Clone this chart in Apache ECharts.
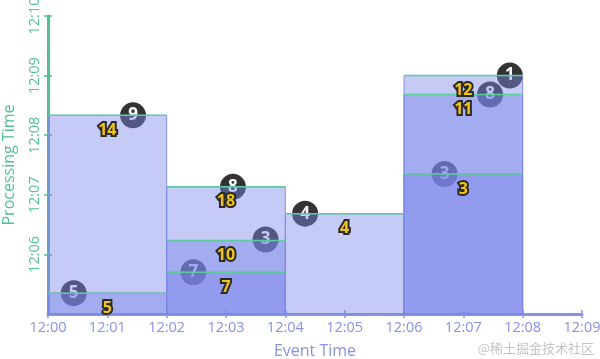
<!DOCTYPE html>
<html>
<head>
<meta charset="utf-8">
<script src="https://cdn.jsdelivr.net/npm/echarts@6/dist/echarts.min.js"></script>
<style>html,body{margin:0;padding:0;background:#fff}#c{width:600px;height:359px}</style>
</head>
<body>
<div id="c"></div>
<script>
// ---- data ----
const xTicks = ["12:00","12:01","12:02","12:03","12:04","12:05","12:06","12:07","12:08","12:09"];
const yTicks = ["12:05","12:06","12:07","12:08","12:09","12:10"];
const windowSize = 2; // minutes
const paneWindow = ["12:00","12:00","12:02","12:02","12:02","12:04","12:06","12:06","12:06"];
const paneFired  = ["12:05:21","12:08:20","12:05:42","12:06:14","12:07:08","12:06:41","12:07:21","12:08:41","12:09:00"];
const paneTotal  = [5,14,7,10,18,4,3,11,12];
const eventTimes = ["12:00:26","12:01:26","12:02:27","12:03:07","12:03:40","12:04:20","12:06:41","12:07:27","12:07:47"];
const procTimes  = ["12:05:21","12:08:20","12:05:42","12:07:08","12:06:15","12:06:41","12:07:21","12:08:41","12:09:00"];
const pointValues = [5,9,7,8,3,4,3,8,1];

function toMin(s){ const p = s.split(':').map(Number); return (p[0]-12)*60 + p[1] + (p[2]||0)/60; }
function fmt(v){ return '12:' + String(Math.round(v)).padStart(2,'0'); }

const xMin = toMin(xTicks[0]), xMax = toMin(xTicks[xTicks.length-1]);
const yMin = toMin(yTicks[0]), yMax = toMin(yTicks[yTicks.length-1]);

const GREEN = '#52c291', PURPLE = '#8a92e4';
const FONT = '"Open Sans", Lato, sans-serif';

const paneData = paneWindow.map((w,i)=>[toMin(w), toMin(w)+windowSize, toMin(paneFired[i]), paneTotal[i]]);
const pointData = eventTimes.map((e,i)=>[toMin(e), toMin(procTimes[i]), pointValues[i]]);

const chart = echarts.init(document.getElementById('c'), null, {renderer:'canvas'});
const baseX = {type:'value', min:xMin, max:xMax, interval:1, position:'bottom'};
const baseY = {type:'value', min:yMin, max:yMax, interval:1, position:'left'};
chart.setOption({
  animation:false,
  grid:{left:48, right:18, top:16, bottom:45, containLabel:false, outerBoundsMode:'none'},
  xAxis:[
    Object.assign({}, baseX, {
      name:'Event Time', nameLocation:'middle', nameGap:29,
      nameTextStyle:{color:PURPLE, fontSize:16, fontFamily:FONT},
      axisLine:{lineStyle:{color:PURPLE, width:3}},
      axisTick:{length:4, lineStyle:{color:PURPLE, width:1.5}},
      axisLabel:{color:PURPLE, fontSize:14.5, fontFamily:FONT, margin:6, formatter:fmt},
      splitLine:{show:false}
    }),
    Object.assign({}, baseX, {
      axisLine:{show:false}, axisLabel:{show:false}, splitLine:{show:false},
      axisTick:{inside:true, length:4, lineStyle:{color:PURPLE, width:1.5}}
    })
  ],
  yAxis:[
    Object.assign({}, baseY, {
      name:'Processing Time', nameLocation:'middle', nameGap:31,
      nameTextStyle:{color:GREEN, fontSize:16, fontFamily:FONT},
      axisLine:{lineStyle:{color:GREEN, width:3}},
      axisTick:{length:4, lineStyle:{color:GREEN, width:1.5}},
      axisLabel:{color:GREEN, fontSize:14.5, fontFamily:FONT, margin:6, rotate:90, formatter:fmt, showMinLabel:false},
      splitLine:{show:false}
    }),
    Object.assign({}, baseY, {
      axisLine:{show:false}, axisLabel:{show:false}, splitLine:{show:false},
      axisTick:{inside:true, length:4, lineStyle:{color:GREEN, width:1.5}}
    })
  ],
  series:[
    {
      type:'scatter', z:1, data:pointData, symbol:'circle', symbolSize:26,
      itemStyle:{color:'#333333', opacity:1},
      label:{show:true, position:'inside', formatter:p=>String(p.value[2]), color:'#ffffff',
        fontSize:17, fontWeight:'bold', fontFamily:FONT},
      emphasis:{disabled:true}
    },
    {
      type:'custom', z:2, data:paneData, encode:{x:[0,1], y:2},
      renderItem:(params, api)=>{
        const a = api.coord([api.value(0), yMin]);
        const b = api.coord([api.value(1), api.value(2)]);
        return {type:'rect', shape:{x:a[0], y:b[1], width:b[0]-a[0], height:a[1]-b[1]},
          style:{fill:'rgba(123,134,234,0.44)', stroke:'rgba(125,135,228,0.9)', lineWidth:1}};
      }
    },
    {
      type:'custom', z:3, data:paneData, encode:{x:[0,1], y:2},
      renderItem:(params, api)=>{
        const a = api.coord([api.value(0), api.value(2)]);
        const b = api.coord([api.value(1), api.value(2)]);
        return {type:'line', shape:{x1:a[0], y1:a[1], x2:b[0], y2:b[1]},
          style:{stroke:'#5fcc9f', lineWidth:1.5}};
      }
    },
    {
      type:'custom', z:4, data:paneData, encode:{x:[0,1], y:2},
      renderItem:(params, api)=>{
        const a = api.coord([(api.value(0)+api.value(1))/2, api.value(2)]);
        return {type:'text', x:a[0], y:a[1]+15,
          style:{text:String(api.value(3)), font:'bold 16px "Open Sans", Lato, sans-serif',
            fill:'#f2c318', stroke:'#2a2a2a', lineWidth:4,
            align:'center', verticalAlign:'middle', textAlign:'center', textVerticalAlign:'middle'}};
      }
    }
  ],
  graphic:[{
    type:'text', right:6, bottom:4,
    style:{text:'@稀土掘金技术社区', font:'13px "Noto Sans CJK SC", sans-serif', fill:'#c4c4c4'}
  }]
});
</script>
</body>
</html>
